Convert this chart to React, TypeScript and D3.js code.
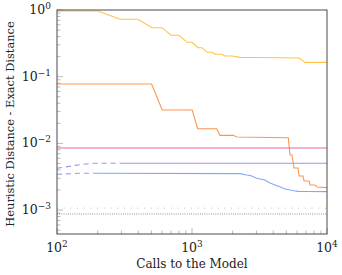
import React from "react";
import * as d3 from "d3";

// ---- data ----
const yellowX = [100, 201, 293, 398, 506, 600, 699, 801, 919, 1000, 1108, 1186, 1291, 1406, 1480, 1668, 1755, 1977, 2268, 3192, 6206, 6876, 10000];
const yellowY = [0.966, 0.966, 0.726, 0.726, 0.543, 0.543, 0.418, 0.418, 0.328, 0.328, 0.272, 0.272, 0.232, 0.232, 0.217, 0.217, 0.204, 0.204, 0.195, 0.194, 0.191, 0.164, 0.164];

const orangeX = [100, 502, 602, 1004, 1101, 1523, 1611, 2022, 2143, 3781, 5169, 5320, 5506, 5700, 6100, 6206, 6642, 6760, 7360, 7490, 8150, 8430, 10000];
const orangeY = [0.0778, 0.0778, 0.0317, 0.0317, 0.0166, 0.0166, 0.0132, 0.0132, 0.01247, 0.01225, 0.01217, 0.0067, 0.0067, 0.00427, 0.00427, 0.00324, 0.00324, 0.00273, 0.00273, 0.00238, 0.00238, 0.00222, 0.00217];

const pinkX = [100, 10000];
const pinkY = [0.00853, 0.00853];

const purpleDashX = [100, 117, 136, 158, 185, 303];
const purpleDashY = [0.00423, 0.00445, 0.00468, 0.00488, 0.00503, 0.00503];
const purpleX = [303, 10000];
const purpleY = [0.00503, 0.00503];

const blueDashX = [100, 148, 191];
const blueDashY = [0.00344, 0.00356, 0.00356];
const blueX = [191, 2268, 2543, 2737, 2850, 3014, 3200, 3474, 3600, 3781, 3950, 4121, 4300, 4490, 4723, 5000, 5320, 5700, 6100, 7000, 10000];
const blueY = [0.00356, 0.00352, 0.00336, 0.00328, 0.00315, 0.003, 0.00292, 0.00283, 0.00268, 0.00255, 0.00246, 0.00238, 0.0023, 0.00224, 0.00212, 0.00206, 0.002, 0.00195, 0.00191, 0.0019, 0.00189];

const dotLightY = 0.00107;
const dotDarkY = 0.000875;

const xTicks = [100, 1000, 10000];
const xTickExp = ["2", "3", "4"];
const yTicks = [1, 0.1, 0.01, 0.001];
const yTickExp = ["0", "\u22121", "\u22122", "\u22123"];

const xLabel = "Calls to the Model";
const yLabel = "Heuristic Distance - Exact Distance";

export default function App() {
  const L = 57, R = 327, T = 10, B = 234;
  const x = d3.scaleLog().domain([100, 10000]).range([L, R]);
  const yMin = Math.pow(10, -(B - T) / 66.7);
  const y = d3.scaleLog().domain([yMin, 1]).range([B, T]);

  const line = (xs: number[], ys: number[]) =>
    d3.line<number>().x((_, i) => x(xs[i])).y((_, i) => y(ys[i]))(xs.map((v) => v)) || "";

  const font = '"DejaVu Serif", "Liberation Serif", serif';
  const tstyle: React.CSSProperties = { fontFamily: font };

  // minor ticks
  const xMinor: number[] = [];
  for (let d = 100; d < 10000; d *= 10) for (let k = 2; k <= 9; k++) xMinor.push(d * k);
  const yMinor: number[] = [];
  for (let d = 0.0001; d < 1; d *= 10) for (let k = 2; k <= 9; k++) {
    const v = d * k;
    if (v >= yMin && v < 1) yMinor.push(v);
  }

  const tickColor = "#aaaaaa";

  return (
    <svg width={342} height={275} style={{ position: "absolute", left: 0, top: 0, fontFamily: font }}>
      <rect x={0} y={0} width={342} height={275} fill="#fff" />
      {/* ticks */}
      {xMinor.map((v, i) => (
        <line key={"xm" + i} x1={x(v)} x2={x(v)} y1={B} y2={B - 3.5} stroke={tickColor} strokeWidth={0.8} />
      ))}
      {xTicks.map((v, i) => (
        <line key={"xM" + i} x1={x(v)} x2={x(v)} y1={B} y2={B - 6} stroke={tickColor} strokeWidth={0.8} />
      ))}
      {yMinor.map((v, i) => (
        <line key={"ym" + i} x1={L} x2={L + 3.5} y1={y(v)} y2={y(v)} stroke={tickColor} strokeWidth={0.8} />
      ))}
      {yTicks.map((v, i) => (
        <line key={"yM" + i} x1={L} x2={L + 6} y1={y(v)} y2={y(v)} stroke={tickColor} strokeWidth={0.8} />
      ))}

      {/* dotted reference lines */}
      <line x1={L} x2={R} y1={y(dotLightY)} y2={y(dotLightY)} stroke="#999" strokeWidth={0.8} strokeDasharray="0.8 5.9" />
      <line x1={L} x2={R} y1={y(dotDarkY)} y2={y(dotDarkY)} stroke="#555" strokeWidth={0.8} strokeDasharray="0.8 1.4" />

      {/* series */}
      <path d={line(yellowX, yellowY)} fill="none" stroke="#ffc347" strokeWidth={1.1} />
      <path d={line(orangeX, orangeY)} fill="none" stroke="#ff9550" strokeWidth={1.1} />
      <path d={line(pinkX, pinkY)} fill="none" stroke="#ee64a3" strokeWidth={1.1} />
      <path d={line(purpleDashX, purpleDashY)} fill="none" stroke="#9e92f0" strokeWidth={1.1} strokeDasharray="5 4" />
      <path d={line(purpleX, purpleY)} fill="none" stroke="#9e92f0" strokeWidth={1.1} />
      <path d={line(blueDashX, blueDashY)} fill="none" stroke="#84a6f7" strokeWidth={1.1} strokeDasharray="5 4" />
      <path d={line(blueX, blueY)} fill="none" stroke="#84a6f7" strokeWidth={1.1} />

      {/* frame */}
      <rect x={L} y={T} width={R - L} height={B - T} fill="none" stroke="#4a4a4a" strokeWidth={1} />

      {/* tick labels */}
      {xTicks.map((v, i) => (
        <text key={"xl" + i} x={x(v)} y={252} textAnchor="middle" style={tstyle} fontSize={12.5} fill="#222">
          10<tspan dy={-5} fontSize={9}>{xTickExp[i]}</tspan>
        </text>
      ))}
      {yTicks.map((v, i) => (
        <text key={"yl" + i} x={51} y={y(v) + 4} textAnchor="end" style={tstyle} fontSize={12.5} fill="#222">
          10<tspan dy={-5} fontSize={9}>{yTickExp[i]}</tspan>
        </text>
      ))}

      {/* axis labels */}
      <text x={(L + R) / 2} y={268} textAnchor="middle" style={tstyle} fontSize={12} fill="#222">
        {xLabel}
      </text>
      <text
        transform={`translate(14, ${(T + B) / 2 + 2}) rotate(-90)`}
        textAnchor="middle"
        style={tstyle}
        fontSize={11.4}
        fill="#222"
      >
        {yLabel}
      </text>
    </svg>
  );
}
